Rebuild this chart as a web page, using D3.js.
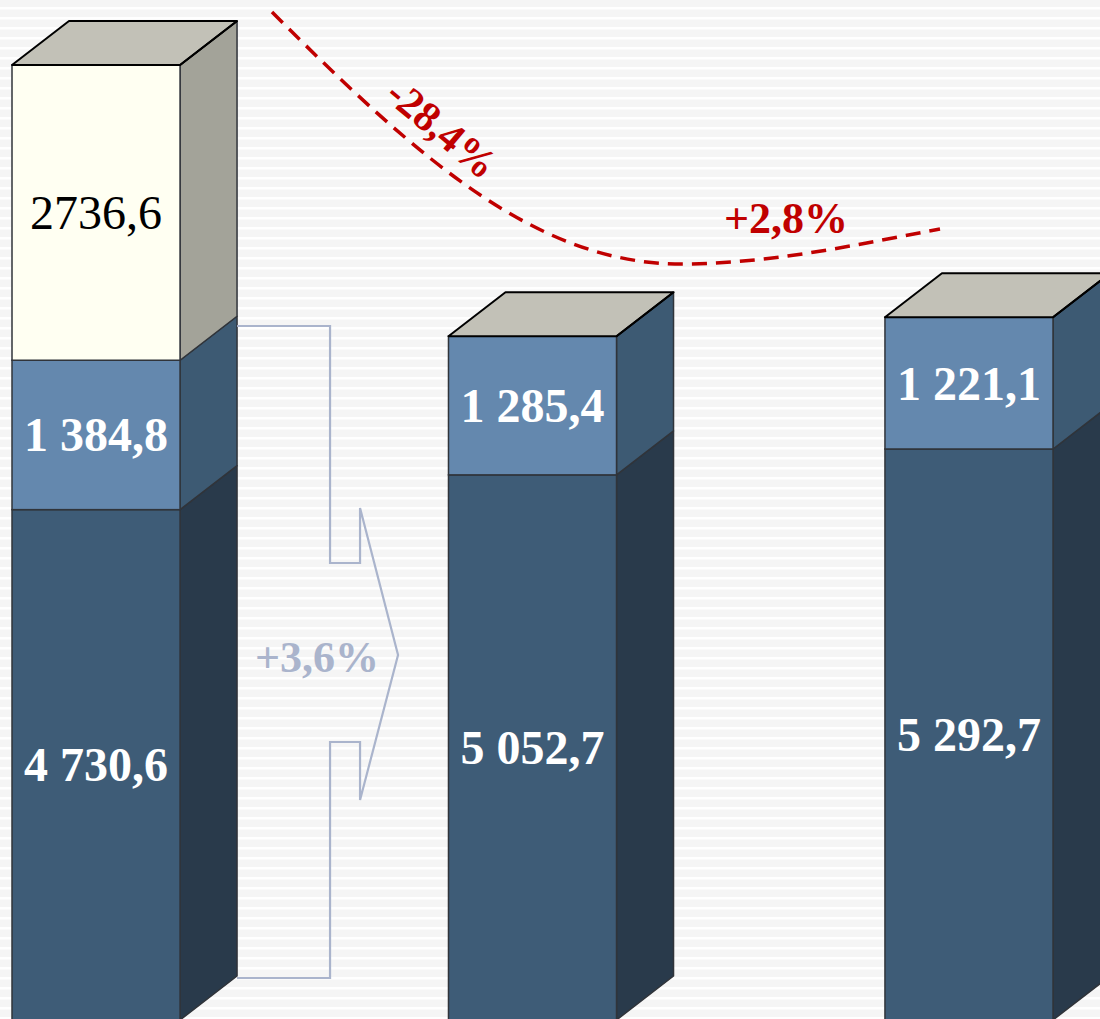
<!DOCTYPE html>
<html>
<head>
<meta charset="utf-8">
<script src="https://cdn.jsdelivr.net/npm/d3@7"></script>
<style>
  html, body { margin: 0; padding: 0; background: #f5f5f5; }
  svg { display: block; }
</style>
</head>
<body>
<svg id="chart"></svg>
<script>
// Data
const years = ["2020", "2021", "2022"];
const baseValues = [4730.6, 5052.7, 5292.7];
const midValues = [1384.8, 1285.4, 1221.1];
const topValues = [2736.6, 0, 0];
const baseLabels = ["4 730,6", "5 052,7", "5 292,7"];
const midLabels = ["1 384,8", "1 285,4", "1 221,1"];
const topLabels = ["2736,6", "", ""];
const changeLabels = ["-28,4%", "+2,8%", "+3,6%"];

const width = 1100, height = 1019;
const depthX = 57, depthY = 44;
const serif = "'Liberation Serif', 'Times New Roman', serif";

const svg = d3.select("#chart")
    .attr("width", width)
    .attr("height", height);

// Striped background
const defs = svg.append("defs");
const pat = defs.append("pattern")
    .attr("id", "stripes")
    .attr("width", 10).attr("height", 10)
    .attr("patternUnits", "userSpaceOnUse");
pat.append("rect").attr("width", 10).attr("height", 10).attr("fill", "#f5f5f5");
pat.append("rect").attr("y", 7).attr("width", 10).attr("height", 2.5).attr("fill", "#ffffff");
svg.append("rect").attr("width", width).attr("height", height).attr("fill", "url(#stripes)");

const x = d3.scaleBand()
    .domain(years)
    .range([12, 1053])
    .paddingInner(0.615)
    .paddingOuter(0);

const y = d3.scaleLinear()
    .domain([0, 8852])
    .range([1020, 65]);

const segments = [
    { values: baseValues, labels: baseLabels, front: "#3e5c77", side: "#293a4b", text: "#ffffff", weight: "bold" },
    { values: midValues, labels: midLabels, front: "#6488ae", side: "#3d5a73", text: "#ffffff", weight: "bold" },
    { values: topValues, labels: topLabels, front: "#fffff2", side: "#a3a399", text: "#000000", weight: "normal" }
];

const topColor = "#c2c1b7";
const bw = x.bandwidth();

years.forEach((yr, i) => {
    const g = svg.append("g");
    const x0 = x(yr), x1 = x0 + bw;
    let cum = 0;
    segments.forEach(seg => {
        const v = seg.values[i];
        if (!v) return;
        const yb = y(cum), yt = y(cum + v);
        cum += v;
        // side face
        g.append("path")
            .attr("d", `M${x1},${yb} L${x1 + depthX},${yb - depthY} L${x1 + depthX},${yt - depthY} L${x1},${yt} Z`)
            .attr("fill", seg.side)
            .attr("stroke", "#30343a")
            .attr("stroke-width", 1.5)
            .attr("stroke-linejoin", "round");
        // front face
        g.append("rect")
            .attr("x", x0).attr("y", yt)
            .attr("width", bw).attr("height", yb - yt)
            .attr("fill", seg.front)
            .attr("stroke", "#30343a")
            .attr("stroke-width", 1.5);
        g.append("text")
            .attr("x", x0 + bw / 2)
            .attr("y", (yb + yt) / 2)
            .attr("text-anchor", "middle")
            .attr("dominant-baseline", "central")
            .attr("font-family", serif)
            .attr("font-size", 48)
            .attr("font-weight", seg.weight)
            .attr("fill", seg.text)
            .text(seg.labels[i]);
    });
    // top face
    const yt = y(cum);
    g.append("path")
        .attr("d", `M${x0},${yt} L${x1},${yt} L${x1 + depthX},${yt - depthY} L${x0 + depthX},${yt - depthY} Z`)
        .attr("fill", topColor)
        .attr("stroke", "#000")
        .attr("stroke-width", 2)
        .attr("stroke-linejoin", "round");
    g.append("path")
        .attr("d", `M${x1},${yt} L${x1 + depthX},${yt - depthY}`)
        .attr("stroke", "#000")
        .attr("stroke-width", 2);
});

// Bracket arrow between bar 1 and bar 2
const ax0 = x(years[0]) + bw + depthX;
const ax1 = ax0 + 93, ax2 = ax1 + 30, ax3 = ax2 + 38;
const arrow = [
    [ax0, 326], [ax1, 326], [ax1, 563], [ax2, 563], [ax2, 508], [ax3, 655],
    [ax2, 800], [ax2, 742], [ax1, 742], [ax1, 978], [ax0, 978]
];
svg.append("path")
    .attr("d", d3.line()(arrow))
    .attr("fill", "none")
    .attr("stroke", "#aab4cc")
    .attr("stroke-width", 2.2);
svg.append("text")
    .attr("x", 317).attr("y", 672)
    .attr("text-anchor", "middle")
    .attr("font-family", serif)
    .attr("font-size", 44)
    .attr("font-weight", "bold")
    .attr("fill", "#aab4cc")
    .text(changeLabels[2]);

// Red dashed trend curve
svg.append("path")
    .attr("d", "M272,12 C420,160 540,268 690,264 C780,262 860,244 940,229")
    .attr("fill", "none")
    .attr("stroke", "#c00000")
    .attr("stroke-width", 3.5)
    .attr("stroke-dasharray", "15,9");

svg.append("text")
    .attr("transform", "translate(442,129) rotate(40)")
    .attr("text-anchor", "middle")
    .attr("dominant-baseline", "central")
    .attr("font-family", serif)
    .attr("font-size", 42)
    .attr("font-weight", "bold")
    .attr("fill", "#c00000")
    .text(changeLabels[0]);

svg.append("text")
    .attr("x", 786).attr("y", 233)
    .attr("text-anchor", "middle")
    .attr("font-family", serif)
    .attr("font-size", 44)
    .attr("font-weight", "bold")
    .attr("fill", "#c00000")
    .text(changeLabels[1]);
</script>
</body>
</html>
